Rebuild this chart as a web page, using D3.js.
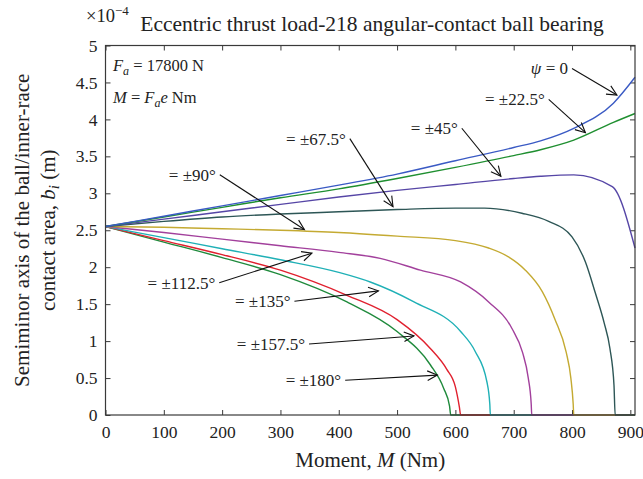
<!DOCTYPE html>
<html>
<head>
<meta charset="utf-8">
<script src="https://cdn.jsdelivr.net/npm/d3@7"></script>
<style>
	body { margin: 0; background: #fff; }
	svg text { font-family: "Liberation Serif", "DejaVu Serif", serif; fill: #222; }
</style>
</head>
<body>
<svg id="chart" width="643" height="479"></svg>
<script>
// Semiminor axis b_i (x1e-4 m) against moment M (Nm), one array per load angle psi.
// Each entry is [moment, b].
const psi0 = [[0, 2.55], [100, 2.69], [200, 2.83], [300, 2.97], [400, 3.11], [500, 3.26], [600, 3.44], [700, 3.62], [746, 3.71], [803, 3.88], [871, 4.22], [908, 4.57]];
const psi22 = [[0, 2.55], [100, 2.68], [200, 2.81], [300, 2.94], [400, 3.06], [500, 3.2], [600, 3.35], [700, 3.51], [746, 3.59], [803, 3.72], [871, 3.96], [908, 4.08]];
const psi45 = [[0, 2.55], [100, 2.65], [200, 2.75], [300, 2.85], [400, 2.95], [500, 3.04], [600, 3.12], [700, 3.2], [746, 3.23], [803, 3.25], [869, 3.09], [908, 2.26]];
const psi67 = [[0, 2.55], [100, 2.62], [200, 2.68], [300, 2.72], [400, 2.75], [500, 2.78], [600, 2.8], [650, 2.8], [714, 2.73], [760, 2.62], [800, 2.41], [823, 2.07], [840, 1.65], [855, 1.25], [865, 0.9], [872, 0.4], [874, 0], [908, 0]];
const psi90 = [[0, 2.55], [100, 2.54], [200, 2.52], [300, 2.5], [400, 2.47], [500, 2.42], [600, 2.36], [657, 2.26], [691, 2.14], [720, 1.96], [749, 1.67], [771, 1.29], [790, 0.85], [798, 0.5], [802, 0.15], [803, 0], [908, 0]];
const psi112 = [[0, 2.55], [100, 2.47], [200, 2.38], [300, 2.29], [400, 2.2], [471, 2.12], [540, 1.96], [609, 1.8], [657, 1.53], [697, 1.17], [715, 0.85], [725, 0.5], [730, 0.15], [731, 0], [908, 0]];
const psi135 = [[0, 2.55], [100, 2.4], [200, 2.25], [300, 2.1], [400, 1.93], [454, 1.8], [529, 1.53], [609, 1.13], [634, 0.86], [654, 0.45], [659, 0.15], [660, 0], [908, 0]];
const psi157 = [[0, 2.55], [100, 2.36], [200, 2.17], [300, 1.96], [414, 1.62], [500, 1.29], [557, 0.9], [585, 0.62], [600, 0.38], [607, 0.1], [609, 0], [908, 0]];
const psi180 = [[0, 2.55], [100, 2.34], [200, 2.13], [300, 1.9], [414, 1.53], [500, 1.13], [557, 0.68], [580, 0.36], [590, 0.12], [592, 0], [908, 0]];

// drawing order: lowest curve first so the upper ones sit on top (like the matlab plot)
const seriesNames = ["±180", "±157.5", "±135", "±112.5", "±90", "±67.5", "±45", "±22.5", "0"];
const seriesData = [psi180, psi157, psi135, psi112, psi90, psi67, psi45, psi22, psi0];
const seriesColors = ["#1f8a3c", "#e0202e", "#1fb0b6", "#a2409c", "#c4aa32", "#2d5656", "#5646a6", "#1f8f30", "#3a5ac4"];

const xTicks = [0, 100, 200, 300, 400, 500, 600, 700, 800, 900];
const yTicks = [0, 0.5, 1, 1.5, 2, 2.5, 3, 3.5, 4, 4.5, 5];

// Arrow labels: text, tail [M, b], head [M, b]
const labelTexts = ["ψ = 0", "= ±22.5°", "= ±45°", "= ±67.5°", "= ±90°", "= ±112.5°", "= ±135°", "= ±157.5°", "= ±180°"];
const labelTails = [[800, 4.69], [760, 4.27], [611, 3.88], [419, 3.74], [196, 3.25], [195, 1.79], [324, 1.54], [349, 0.96], [411, 0.47]];
const labelHeads = [[877, 4.33], [823, 3.82], [678, 3.23], [493, 2.82], [341, 2.51], [354, 2.19], [468, 1.68], [529, 1.07], [569, 0.54]];

const margin = { top: 45.5, right: 8, bottom: 64, left: 105.5 };
const width = 643;
const height = 479;
const serif = "'Liberation Serif', 'DejaVu Serif', serif";

const svg = d3.select("#chart");

const x = d3.scaleLinear().domain([0, 908]).range([margin.left, width - margin.right]);
const y = d3.scaleLinear().domain([0, 5]).range([height - margin.bottom, margin.top]);

const axisColor = "#3a3a3a";

// Axes (ticks point inward, box style)
const styleAxis = (g) => {
	g.attr("font-family", serif);
	g.select(".domain").remove();
	g.selectAll(".tick line").attr("stroke", axisColor);
	g.selectAll(".tick text").style("font-family", serif).style("font-size", "17.5px").attr("fill", "#222");
};

svg.append("g")
	.attr("transform", `translate(0,${y(0)})`)
	.call(d3.axisBottom(x).tickValues(xTicks).tickSizeInner(-5).tickSizeOuter(0).tickPadding(11))
	.call(styleAxis);

svg.append("g")
	.attr("transform", `translate(0,${y(5)})`)
	.call(d3.axisTop(x).tickValues(xTicks).tickSizeInner(-5).tickSizeOuter(0).tickFormat(""))
	.call(styleAxis);

svg.append("g")
	.attr("transform", `translate(${x(0)},0)`)
	.call(d3.axisLeft(y).tickValues(yTicks).tickFormat(d3.format("~g")).tickSizeInner(-5).tickSizeOuter(0).tickPadding(8))
	.call(styleAxis);

svg.append("g")
	.attr("transform", `translate(${x(908)},0)`)
	.call(d3.axisRight(y).tickValues(yTicks).tickSizeInner(-5).tickSizeOuter(0).tickFormat(""))
	.call(styleAxis);

// the curves
const line = d3.line()
	.x((d) => x(d[0]))
	.y((d) => y(d[1]))
	.curve(d3.curveMonotoneX);

svg.append("g")
	.selectAll("path")
	.data(seriesData)
	.join("path")
	.attr("d", line)
	.attr("fill", "none")
	.attr("stroke", (d, i) => seriesColors[i])
	.attr("stroke-width", 1.4);

// box on top of everything
svg.append("rect")
	.attr("x", x(0))
	.attr("y", y(5))
	.attr("width", x(908) - x(0))
	.attr("height", y(0) - y(5))
	.attr("fill", "none")
	.attr("stroke", axisColor)
	.attr("stroke-width", 1.2);

// Arrow annotations
const ann = svg.append("g");
labelTexts.forEach((t, i) => {
	const [tx, ty] = [x(labelTails[i][0]), y(labelTails[i][1])];
	const [hx, hy] = [x(labelHeads[i][0]), y(labelHeads[i][1])];
	ann.append("line")
		.attr("x1", tx).attr("y1", ty)
		.attr("x2", hx).attr("y2", hy)
		.attr("stroke", "#111")
		.attr("stroke-width", 1.1);
	// open V head
	const a = Math.atan2(hy - ty, hx - tx);
	const len = 11;
	const spread = 0.45;
	const p1 = [hx - len * Math.cos(a - spread), hy - len * Math.sin(a - spread)];
	const p2 = [hx - len * Math.cos(a + spread), hy - len * Math.sin(a + spread)];
	ann.append("path")
		.attr("d", `M${p1[0]},${p1[1]}L${hx},${hy}L${p2[0]},${p2[1]}`)
		.attr("fill", "none")
		.attr("stroke", "#111")
		.attr("stroke-width", 1.1);

	const txt = ann.append("text")
		.attr("x", tx - 4)
		.attr("y", ty)
		.attr("dy", "0.35em")
		.attr("text-anchor", "end")
		.style("font-size", "17px");
	if (t.startsWith("ψ")) {
		txt.append("tspan").style("font-style", "italic").text("ψ");
		txt.append("tspan").text(" = 0");
	} else {
		txt.text(t);
	}
});

// F_a and M notes in the top left corner
const note1 = svg.append("text").attr("x", 113).attr("y", 71).style("font-size", "16.5px");
note1.append("tspan").style("font-style", "italic").text("F");
note1.append("tspan").style("font-style", "italic").style("font-size", "12px").attr("dy", 4).text("a");
note1.append("tspan").attr("dy", -4).text(" = 17800 N");

const note2 = svg.append("text").attr("x", 113).attr("y", 103).style("font-size", "16.5px");
note2.append("tspan").style("font-style", "italic").text("M");
note2.append("tspan").text(" = ");
note2.append("tspan").style("font-style", "italic").text("F");
note2.append("tspan").style("font-style", "italic").style("font-size", "12px").attr("dy", 4).text("a");
note2.append("tspan").style("font-style", "italic").attr("dy", -4).text("e");
note2.append("tspan").text(" Nm");

// title + exponent (exponent sits left of the title, above the axis corner)
const expo = svg.append("text").attr("x", 86).attr("y", 22).style("font-size", "18.5px");
expo.append("tspan").text("×10");
expo.append("tspan").style("font-size", "13px").attr("dy", -7).text("−4");

svg.append("text")
	.attr("x", 372)
	.attr("y", 31)
	.attr("text-anchor", "middle")
	.style("font-size", "21.5px")
	.text("Eccentric thrust load-218 angular-contact ball bearing");

// x label
const xl = svg.append("text")
	.attr("x", (x(0) + x(908)) / 2)
	.attr("y", 467)
	.attr("text-anchor", "middle")
	.style("font-size", "21px");
xl.append("tspan").text("Moment, ");
xl.append("tspan").style("font-style", "italic").text("M");
xl.append("tspan").text(" (Nm)");

// y label, two lines rotated
const yMid = (y(0) + y(5)) / 2;
svg.append("text")
	.attr("transform", `translate(29,${yMid}) rotate(-90)`)
	.attr("text-anchor", "middle")
	.style("font-size", "21px")
	.text("Semiminor axis of the ball/inner-race");

const yl2 = svg.append("text")
	.attr("transform", `translate(55,${yMid}) rotate(-90)`)
	.attr("text-anchor", "middle")
	.style("font-size", "21px");
yl2.append("tspan").text("contact area, ");
yl2.append("tspan").style("font-style", "italic").text("b");
yl2.append("tspan").style("font-style", "italic").style("font-size", "15px").attr("dy", 4).text("i");
yl2.append("tspan").attr("dy", -4).text(" (m)");
</script>
</body>
</html>
